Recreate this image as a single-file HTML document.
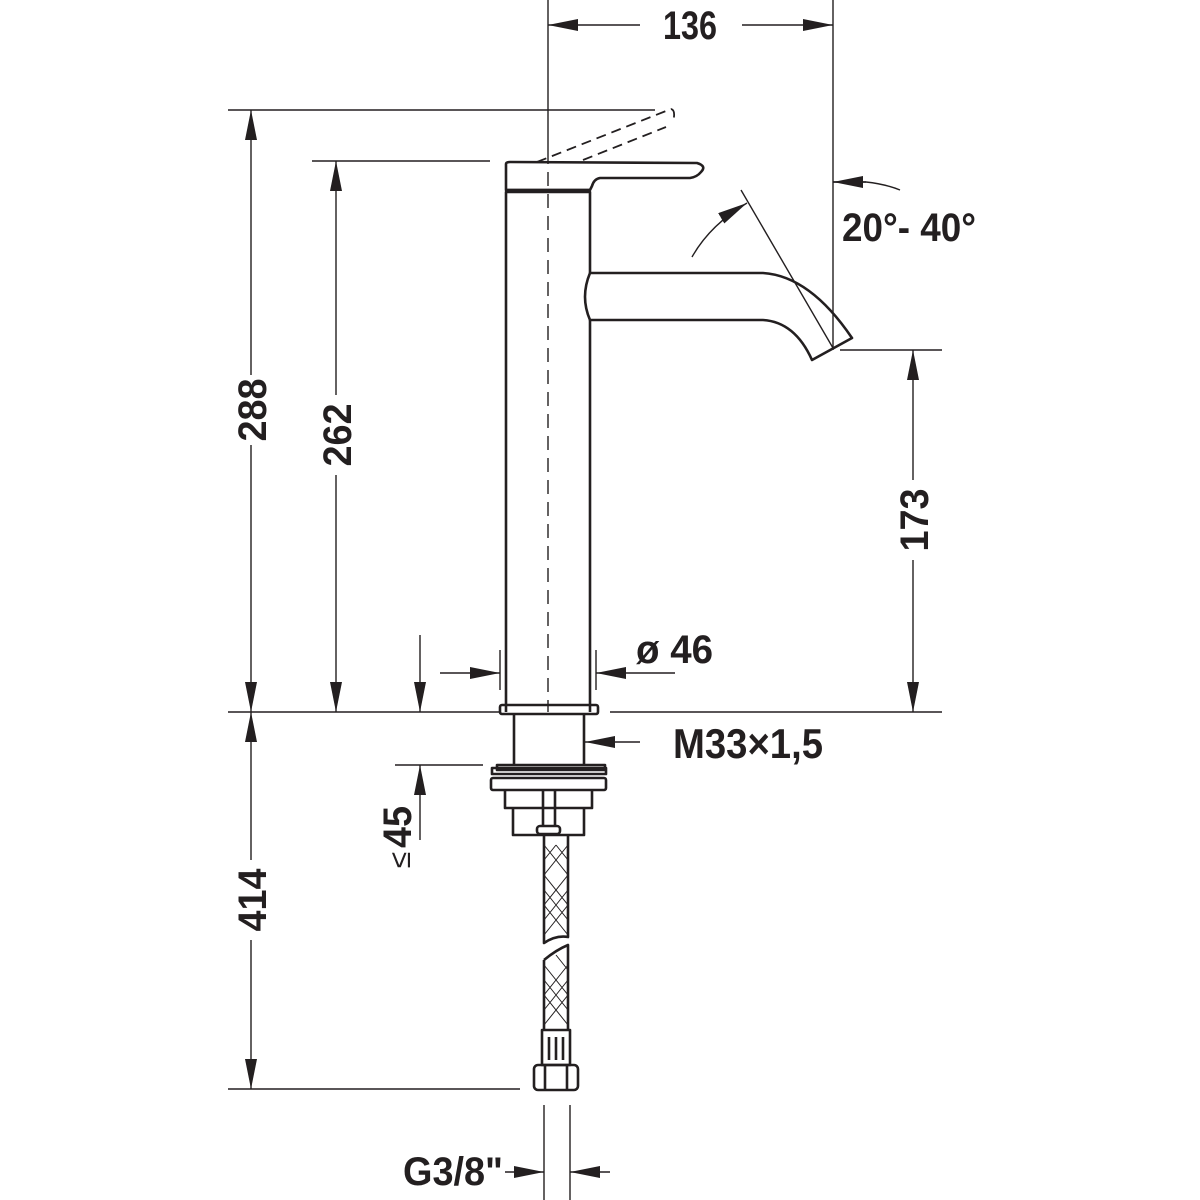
<!DOCTYPE html>
<html><head><meta charset="utf-8"><style>html,body{margin:0;padding:0;background:#fff}svg{display:block}
text{font-family:"Liberation Sans Narrow","Liberation Sans",sans-serif;font-weight:bold;fill:#231f20}</style></head>
<body>
<svg width="1200" height="1200" viewBox="0 0 1200 1200" xmlns="http://www.w3.org/2000/svg">
<defs>
<marker id="b" viewBox="0 0 30 12" refX="30" refY="6" markerWidth="30" markerHeight="12" markerUnits="userSpaceOnUse" orient="auto-start-reverse"><path d="M0,0L30,6L0,12z" fill="#231f20"/></marker>
</defs>
<g stroke="#231f20" fill="none" stroke-width="1.4">
<line x1="548" y1="0" x2="548" y2="150"/>
<line x1="833" y1="0" x2="833" y2="350"/>
<line x1="228" y1="110" x2="655" y2="110"/>
<line x1="312" y1="161" x2="490" y2="161"/>
<line x1="228" y1="712" x2="500" y2="712"/>
<line x1="610" y1="712" x2="942" y2="712"/>
<line x1="840" y1="350" x2="942" y2="350"/>
<line x1="395" y1="765" x2="483" y2="765"/>
<line x1="228" y1="1089" x2="520" y2="1089"/>
<line x1="544" y1="1105" x2="544" y2="1200"/>
<line x1="570" y1="1105" x2="570" y2="1200"/>
<line x1="500" y1="650" x2="500" y2="690"/>
<line x1="596" y1="650" x2="596" y2="690"/>
<line x1="640" y1="25" x2="548" y2="25" marker-end="url(#b)"/>
<line x1="742" y1="25" x2="833" y2="25" marker-end="url(#b)"/>
<line x1="251" y1="110" x2="251" y2="375" marker-start="url(#b)"/>
<line x1="251" y1="445" x2="251" y2="712" marker-end="url(#b)"/>
<line x1="336" y1="161" x2="336" y2="395" marker-start="url(#b)"/>
<line x1="336" y1="475" x2="336" y2="712" marker-end="url(#b)"/>
<line x1="913" y1="350" x2="913" y2="480" marker-start="url(#b)"/>
<line x1="913" y1="560" x2="913" y2="712" marker-end="url(#b)"/>
<line x1="251" y1="712" x2="251" y2="860" marker-start="url(#b)"/>
<line x1="251" y1="940" x2="251" y2="1089" marker-end="url(#b)"/>
<line x1="420" y1="635" x2="420" y2="712" marker-end="url(#b)"/>
<line x1="420" y1="840" x2="420" y2="765" marker-end="url(#b)"/>
<line x1="440" y1="673" x2="500" y2="673" marker-end="url(#b)"/>
<line x1="675" y1="673" x2="596" y2="673" marker-end="url(#b)"/>
<line x1="640" y1="742" x2="585" y2="742" marker-end="url(#b)"/>
<line x1="505" y1="1172" x2="544" y2="1172" marker-end="url(#b)"/>
<line x1="610" y1="1172" x2="570" y2="1172" marker-end="url(#b)"/>
<path d="M900,190 Q885,184 866,182 L833,182" />
<path d="M866,182 L833,182" marker-end="url(#b)"/>
<path d="M692,257 Q710,225 747,203" marker-end="url(#b)"/>
<line x1="741" y1="190" x2="833" y2="348"/>
<line x1="548" y1="150" x2="548" y2="712" stroke-dasharray="14,8"/>
<path d="M537,162 L671,109 Q676,110 673,122" stroke-dasharray="10,6" stroke-width="1.8"/>
<path d="M583,160 L666,127" stroke-dasharray="10,6" stroke-width="1.8"/>
</g>
<g stroke="#231f20" fill="none" stroke-width="2.6" stroke-linejoin="round">
<path d="M506,712 L506,192 L590,192 L590,273 M590,320 L590,712"/>
<path d="M506,190 L506,164 Q506,162 510,162 L697,163 Q707,166 701,172 Q697,177 690,178 L600,178 Q594,179 592,186 L590,190 Z"/>
<line x1="506" y1="190" x2="590" y2="190"/>
<path d="M590,273 L763,273 Q810,276 852,338 L812,360 Q795,322 763,320 L590,320 Q580,297 590,273"/>
<rect x="500" y="705" width="98" height="9" rx="2"/>
<path d="M514,714 L514,765 M584,714 L584,765"/>
<rect x="497" y="765" width="108" height="5"/>
<rect x="492" y="768" width="114" height="6"/>
<rect x="491" y="778" width="115" height="12" rx="2"/>
<path d="M505,790 L505,808 L592,808 L592,790 M513,808 L513,835 L584,835 L584,808"/>
<path d="M543,790 L543,826 M555,790 L555,826"/>
<rect x="537" y="826" width="23" height="8" rx="3"/>
<path d="M544,835 L544,943 Q556,935 568,937 L568,835"/>
<path d="M544,960 Q556,950 568,945 L568,1030 M544,960 L544,1030"/>
<rect x="542" y="1030" width="28" height="35"/>
<path d="M549,1037 L549,1060 M556,1037 L556,1060 M563,1037 L563,1060"/>
<rect x="534" y="1065" width="44" height="25" rx="4"/>
<path d="M545,1065 L545,1090 M567,1065 L567,1090"/>
</g>
<g stroke="#231f20" stroke-width="1" fill="none">
<path d="M544,845 L568,875 L544,905 L568,935 M568,845 L544,875 L568,905 L544,935 M544,860 L556,845 M568,860 L556,845 M544,890 L568,920 M568,890 L544,920"/>
<path d="M544,965 L568,995 L544,1025 M568,965 L544,995 L568,1025 M556,955 L568,970 M544,980 L568,1010 M568,980 L544,1010"/>
</g>
<text x="690" y="39" font-size="40" text-anchor="middle" textLength="54" lengthAdjust="spacingAndGlyphs">136</text>
<text x="842" y="241" font-size="40" textLength="134" lengthAdjust="spacingAndGlyphs">20°- 40°</text>
<text x="636" y="663" font-size="40" textLength="77" lengthAdjust="spacingAndGlyphs">ø 46</text>
<text x="673" y="758" font-size="42" textLength="150" lengthAdjust="spacingAndGlyphs">M33×1,5</text>
<text x="403" y="1185" font-size="40" textLength="100" lengthAdjust="spacingAndGlyphs">G3/8"</text>
<text transform="translate(266,410) rotate(-90)" font-size="40" text-anchor="middle" textLength="63" lengthAdjust="spacingAndGlyphs">288</text>
<text transform="translate(351,435) rotate(-90)" font-size="40" text-anchor="middle" textLength="63" lengthAdjust="spacingAndGlyphs">262</text>
<text transform="translate(928,520) rotate(-90)" font-size="40" text-anchor="middle" textLength="63" lengthAdjust="spacingAndGlyphs">173</text>
<text transform="translate(266,900) rotate(-90)" font-size="40" text-anchor="middle" textLength="63" lengthAdjust="spacingAndGlyphs">414</text>
<text transform="translate(411,827) rotate(-90)" font-size="40" text-anchor="middle" textLength="42" lengthAdjust="spacingAndGlyphs">45</text>
<text transform="translate(410,860) rotate(-90)" font-size="30" text-anchor="middle" style="font-weight:normal">≤</text>
</svg>
</body></html>
